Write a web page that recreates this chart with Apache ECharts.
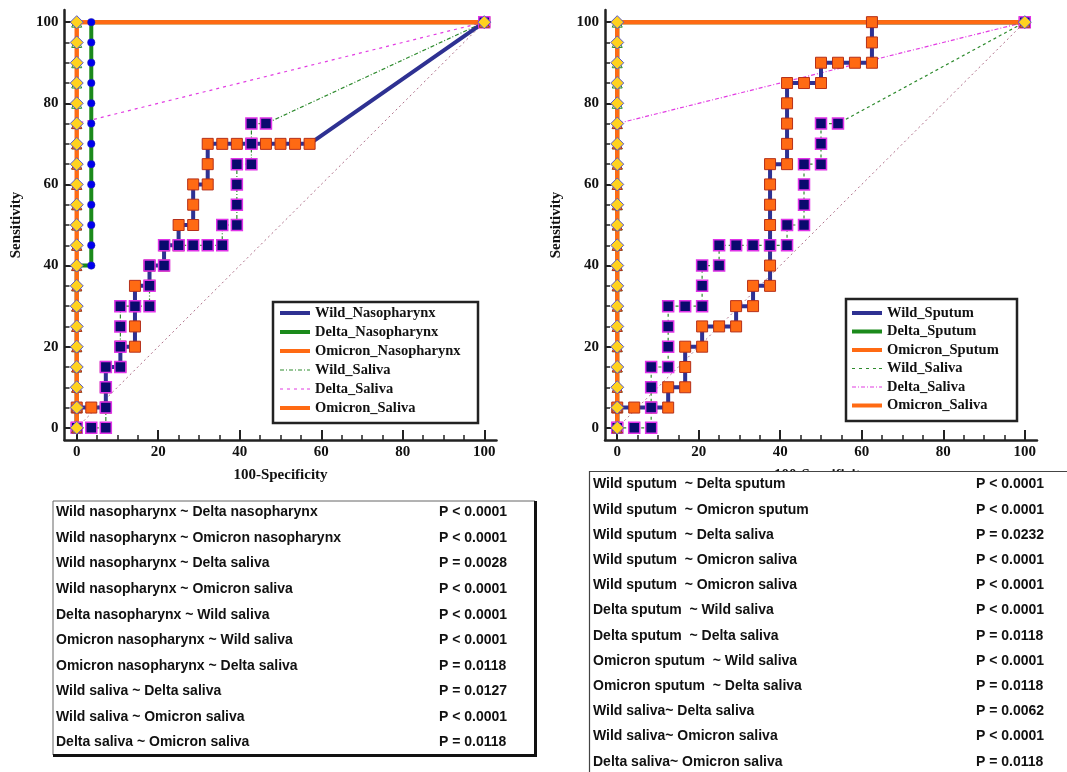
<!DOCTYPE html>
<html>
<head>
<meta charset="utf-8">
<script src="https://cdn.jsdelivr.net/npm/echarts@6/dist/echarts.min.js"></script>
<style>
  html, body { margin: 0; padding: 0; background: #fff; }
  #chart { width: 1067px; height: 772px; }
</style>
</head>
<body>
<div id="chart"></div>
<script>
// ---- axis ticks (percent) ----
const majorTicks = [0, 20, 40, 60, 80, 100];
const minorTicks = [5, 10, 15, 25, 30, 35, 45, 50, 55, 65, 70, 75, 85, 90, 95];

// ---- reference diagonal ----
const diagX = [0, 100];
const diagY = [0, 100];

// ---- nasopharynx panel: 100-Specificity (x) / Sensitivity (y) ----
const wildNasoX = [0, 0, 3.57, 7.14, 7.14, 7.14, 10.71, 10.71, 14.29, 14.29, 14.29, 14.29, 17.86, 17.86, 21.43, 21.43, 25, 25, 28.57, 28.57, 28.57, 32.14, 32.14, 32.14, 35.71, 39.29, 42.86, 46.43, 50, 53.57, 57.14, 100];
const wildNasoY = [0, 5, 5, 5, 10, 15, 15, 20, 20, 25, 30, 35, 35, 40, 40, 45, 45, 50, 50, 55, 60, 60, 65, 70, 70, 70, 70, 70, 70, 70, 70, 100];

const deltaNasoX = [0, 0, 0, 0, 0, 0, 0, 0, 0, 3.57, 3.57, 3.57, 3.57, 3.57, 3.57, 3.57, 3.57, 3.57, 3.57, 3.57, 3.57, 3.57, 100];
const deltaNasoY = [0, 5, 10, 15, 20, 25, 30, 35, 40, 40, 45, 50, 55, 60, 65, 70, 75, 80, 85, 90, 95, 100, 100];

const omicronNasoX = [0, 0, 0, 0, 0, 0, 0, 0, 0, 0, 0, 0, 0, 0, 0, 0, 0, 0, 0, 0, 0, 100];
const omicronNasoY = [0, 5, 10, 15, 20, 25, 30, 35, 40, 45, 50, 55, 60, 65, 70, 75, 80, 85, 90, 95, 100, 100];

const wildSalivaLX = [0, 3.57, 7.14, 7.14, 7.14, 7.14, 10.71, 10.71, 10.71, 10.71, 14.29, 17.86, 17.86, 17.86, 21.43, 21.43, 25, 28.57, 32.14, 35.71, 35.71, 39.29, 39.29, 39.29, 39.29, 42.86, 42.86, 42.86, 46.43, 100];
const wildSalivaLY = [0, 0, 0, 5, 10, 15, 15, 20, 25, 30, 30, 30, 35, 40, 40, 45, 45, 45, 45, 45, 50, 50, 55, 60, 65, 65, 70, 75, 75, 100];

const deltaSalivaLX = [0, 0, 0, 0, 0, 0, 0, 0, 0, 0, 0, 0, 0, 0, 0, 0, 100];
const deltaSalivaLY = [0, 5, 10, 15, 20, 25, 30, 35, 40, 45, 50, 55, 60, 65, 70, 75, 100];

const omicronSalivaLX = [0, 0, 0, 0, 0, 0, 0, 0, 0, 0, 0, 0, 0, 0, 0, 0, 0, 0, 0, 0, 0, 100];
const omicronSalivaLY = [0, 5, 10, 15, 20, 25, 30, 35, 40, 45, 50, 55, 60, 65, 70, 75, 80, 85, 90, 95, 100, 100];

// ---- sputum panel ----
const wildSputumX = [0, 0, 4.17, 8.33, 12.5, 12.5, 16.67, 16.67, 16.67, 20.83, 20.83, 25, 29.17, 29.17, 33.33, 33.33, 37.5, 37.5, 37.5, 37.5, 37.5, 37.5, 37.5, 41.67, 41.67, 41.67, 41.67, 41.67, 45.83, 50, 50, 54.17, 58.33, 62.5, 62.5, 62.5, 100];
const wildSputumY = [0, 5, 5, 5, 5, 10, 10, 15, 20, 20, 25, 25, 25, 30, 30, 35, 35, 40, 45, 50, 55, 60, 65, 65, 70, 75, 80, 85, 85, 85, 90, 90, 90, 90, 95, 100, 100];

const deltaSputumX = [0, 0, 0, 0, 0, 0, 0, 0, 0, 0, 0, 0, 0, 0, 0, 0, 0, 0, 0, 0, 0, 100];
const deltaSputumY = [0, 5, 10, 15, 20, 25, 30, 35, 40, 45, 50, 55, 60, 65, 70, 75, 80, 85, 90, 95, 100, 100];

const omicronSputumX = [0, 0, 0, 0, 0, 0, 0, 0, 0, 0, 0, 0, 0, 0, 0, 0, 0, 0, 0, 0, 0, 100];
const omicronSputumY = [0, 5, 10, 15, 20, 25, 30, 35, 40, 45, 50, 55, 60, 65, 70, 75, 80, 85, 90, 95, 100, 100];

const wildSalivaRX = [0, 4.17, 8.33, 8.33, 8.33, 8.33, 12.5, 12.5, 12.5, 12.5, 16.67, 20.83, 20.83, 20.83, 25, 25, 29.17, 33.33, 37.5, 41.67, 41.67, 45.83, 45.83, 45.83, 45.83, 50, 50, 50, 54.17, 100];
const wildSalivaRY = [0, 0, 0, 5, 10, 15, 15, 20, 25, 30, 30, 30, 35, 40, 40, 45, 45, 45, 45, 45, 50, 50, 55, 60, 65, 65, 70, 75, 75, 100];

const deltaSalivaRX = [0, 0, 0, 0, 0, 0, 0, 0, 0, 0, 0, 0, 0, 0, 0, 0, 100];
const deltaSalivaRY = [0, 5, 10, 15, 20, 25, 30, 35, 40, 45, 50, 55, 60, 65, 70, 75, 100];

const omicronSalivaRX = [0, 0, 0, 0, 0, 0, 0, 0, 0, 0, 0, 0, 0, 0, 0, 0, 0, 0, 0, 0, 0, 100];
const omicronSalivaRY = [0, 5, 10, 15, 20, 25, 30, 35, 40, 45, 50, 55, 60, 65, 70, 75, 80, 85, 90, 95, 100, 100];

// ---- pairwise comparison tables ----
const leftComparisons = [
  'Wild nasopharynx ~ Delta nasopharynx',
  'Wild nasopharynx ~ Omicron nasopharynx',
  'Wild nasopharynx ~ Delta saliva',
  'Wild nasopharynx ~ Omicron saliva',
  'Delta nasopharynx ~ Wild saliva',
  'Omicron nasopharynx ~ Wild saliva',
  'Omicron nasopharynx ~ Delta saliva',
  'Wild saliva ~ Delta saliva',
  'Wild saliva ~ Omicron saliva',
  'Delta saliva ~ Omicron saliva'
];
const leftPValues = ['P < 0.0001', 'P < 0.0001', 'P = 0.0028', 'P < 0.0001', 'P < 0.0001',
  'P < 0.0001', 'P = 0.0118', 'P = 0.0127', 'P < 0.0001', 'P = 0.0118'];

const rightComparisons = [
  'Wild sputum  ~ Delta sputum',
  'Wild sputum  ~ Omicron sputum',
  'Wild sputum  ~ Delta saliva',
  'Wild sputum  ~ Omicron saliva',
  'Wild sputum  ~ Omicron saliva',
  'Delta sputum  ~ Wild saliva',
  'Delta sputum  ~ Delta saliva',
  'Omicron sputum  ~ Wild saliva',
  'Omicron sputum  ~ Delta saliva',
  'Wild saliva~ Delta saliva',
  'Wild saliva~ Omicron saliva',
  'Delta saliva~ Omicron saliva'
];
const rightPValues = ['P < 0.0001', 'P < 0.0001', 'P = 0.0232', 'P < 0.0001', 'P < 0.0001',
  'P < 0.0001', 'P = 0.0118', 'P < 0.0001', 'P = 0.0118', 'P = 0.0062', 'P < 0.0001', 'P = 0.0118'];

const leftNames = ['Wild_Nasopharynx', 'Delta_Nasopharynx', 'Omicron_Nasopharynx', 'Wild_Saliva', 'Delta_Saliva', 'Omicron_Saliva'];
const rightNames = ['Wild_Sputum', 'Delta_Sputum', 'Omicron_Sputum', 'Wild_Saliva', 'Delta_Saliva', 'Omicron_Saliva'];

// ---- styles ----
const NAVY = '#2e3192', GREEN = '#1b8a1b', ORANGE = '#ff6a13';
const THIN_GREEN = '#2e8b2e', MAGENTA = '#e23ce2', DIAG = '#b0708a';
const AXIS = '#222';
const serif = 'Liberation Serif';

const sqOrange = { symbol: 'rect', size: 11, fill: '#ff6a13', stroke: '#b5301a', bw: 1 };
const sqNavy = { symbol: 'rect', size: 11, fill: '#0a0a6e', stroke: '#e033e8', bw: 1.5 };
const dotBlue = { symbol: 'circle', size: 7.5, fill: '#0000ee', stroke: '#2a2aa0', bw: 0.5 };
const triGreen = { symbol: 'triangle', size: 10, fill: '#d8ecd0', stroke: '#2e8b2e', bw: 1 };
const triRed = { symbol: 'triangle', size: 10, fill: '#ff7a30', stroke: '#b03020', bw: 1 };
const diamond = { symbol: 'diamond', size: 13, fill: '#ffd21f', stroke: '#5a5ac8', bw: 1 };

const DASH_DOT = [4, 2, 1, 2];
const DASHED = [3, 4];

function pts(xs, ys) { return xs.map((x, i) => [x, ys[i]]); }

function curve(name, xs, ys, g, color, width, type, z) {
  return {
    type: 'line', name, xAxisIndex: 2 * g, yAxisIndex: 2 * g,
    data: pts(xs, ys), symbol: 'none', showSymbol: false, silent: true,
    lineStyle: { color, width, type }, itemStyle: { color }, z
  };
}

function marks(name, xs, ys, g, m, z) {
  return {
    type: 'scatter', name, xAxisIndex: 2 * g, yAxisIndex: 2 * g,
    data: pts(xs, ys), symbol: m.symbol, symbolSize: m.size, silent: true,
    itemStyle: { color: m.fill, borderColor: m.stroke, borderWidth: m.bw, opacity: 1 }, z
  };
}

function majorX(g) {
  return {
    gridIndex: g, type: 'value', min: -3, max: 103, position: 'bottom',
    name: '100-Specificity', nameLocation: 'middle', nameGap: 28,
    nameTextStyle: { fontFamily: serif, fontWeight: 'bold', fontSize: 15, color: '#111' },
    axisLine: { onZero: false, lineStyle: { color: AXIS, width: 2.5 } },
    axisTick: { inside: true, length: 10, customValues: majorTicks, lineStyle: { color: AXIS, width: 2 } },
    axisLabel: { customValues: majorTicks, margin: 5, fontFamily: serif, fontWeight: 'bold', fontSize: 15, color: '#111' },
    splitLine: { show: false }
  };
}
function minorX(g) {
  return {
    gridIndex: g, type: 'value', min: -3, max: 103, position: 'bottom',
    axisLine: { show: false, onZero: false },
    axisTick: { inside: true, length: 5, customValues: minorTicks, lineStyle: { color: AXIS, width: 1.5 } },
    axisLabel: { show: false }, splitLine: { show: false }
  };
}
function majorY(g) {
  return {
    gridIndex: g, type: 'value', min: -3, max: 103, position: 'left',
    name: 'Sensitivity', nameLocation: 'middle', nameGap: 41, nameRotate: 90,
    nameTextStyle: { fontFamily: serif, fontWeight: 'bold', fontSize: 15, color: '#111' },
    axisLine: { onZero: false, lineStyle: { color: AXIS, width: 2.5 } },
    axisTick: { inside: true, length: 8, customValues: majorTicks, lineStyle: { color: AXIS, width: 2 } },
    axisLabel: { customValues: majorTicks, margin: 6, fontFamily: serif, fontWeight: 'bold', fontSize: 15, color: '#111' },
    splitLine: { show: false }
  };
}
function minorY(g) {
  return {
    gridIndex: g, type: 'value', min: -3, max: 103, position: 'left',
    axisLine: { show: false, onZero: false },
    axisTick: { inside: true, length: 5, customValues: minorTicks, lineStyle: { color: AXIS, width: 1.5 } },
    axisLabel: { show: false }, splitLine: { show: false }
  };
}

// legend line samples (solid bar or dash pattern)
const ICON_SOLID = 'rect';
const ICON_DASH_DOT = 'path://M0,0h4v1h-4zM6,0h1v1h-1zM9,0h4v1h-4zM15,0h1v1h-1zM18,0h4v1h-4zM24,0h1v1h-1zM27,0h3v1h-3z';
const ICON_DASHED = 'path://M0,0h3v1h-3zM7,0h3v1h-3zM14,0h3v1h-3zM21,0h3v1h-3zM27,0h3v1h-3z';

function legendBlock(names, icons, left, top, gap) {
  return {
    orient: 'vertical', left, top, padding: 0, itemGap: gap,
    itemWidth: 30, itemHeight: 4, symbolKeepAspect: true, selectedMode: false,
    itemStyle: { borderWidth: 0 },
    textStyle: { fontFamily: serif, fontWeight: 'bold', fontSize: 14.5, color: '#111', lineHeight: 16 },
    data: names.map((n, i) => ({ name: n, icon: icons[i] }))
  };
}

const series = [
  // nasopharynx panel: lines
  curve('diag', diagX, diagY, 0, DIAG, 1, [2, 3], 1),
  curve('Delta_Saliva', deltaSalivaLX, deltaSalivaLY, 0, MAGENTA, 1.2, DASHED, 2),
  curve('Wild_Saliva', wildSalivaLX, wildSalivaLY, 0, THIN_GREEN, 1.2, DASH_DOT, 2),
  curve('Wild_Nasopharynx', wildNasoX, wildNasoY, 0, NAVY, 4, 'solid', 3),
  curve('Delta_Nasopharynx', deltaNasoX, deltaNasoY, 0, GREEN, 4, 'solid', 4),
  curve('Omicron_Nasopharynx', omicronNasoX, omicronNasoY, 0, ORANGE, 4, 'solid', 5),
  curve('Omicron_Saliva', omicronSalivaLX, omicronSalivaLY, 0, ORANGE, 4, 'solid', 6),
  // nasopharynx panel: markers
  marks('Wild_Nasopharynx', wildNasoX, wildNasoY, 0, sqOrange, 10),
  marks('Wild_Saliva', wildSalivaLX, wildSalivaLY, 0, sqNavy, 11),
  marks('Delta_Nasopharynx', deltaNasoX, deltaNasoY, 0, dotBlue, 12),
  marks('Omicron_Nasopharynx', omicronNasoX, omicronNasoY, 0, triGreen, 13),
  marks('Delta_Saliva', deltaSalivaLX, deltaSalivaLY, 0, triRed, 14),
  marks('Omicron_Saliva', omicronSalivaLX, omicronSalivaLY, 0, diamond, 15),

  // sputum panel: lines
  curve('diag', diagX, diagY, 1, DIAG, 1, [2, 3], 1),
  curve('Delta_Saliva', deltaSalivaRX, deltaSalivaRY, 1, MAGENTA, 1.2, DASH_DOT, 2),
  curve('Wild_Saliva', wildSalivaRX, wildSalivaRY, 1, THIN_GREEN, 1.2, [3, 3], 2),
  curve('Wild_Sputum', wildSputumX, wildSputumY, 1, NAVY, 4, 'solid', 3),
  curve('Delta_Sputum', deltaSputumX, deltaSputumY, 1, GREEN, 4, 'solid', 4),
  curve('Omicron_Sputum', omicronSputumX, omicronSputumY, 1, ORANGE, 4, 'solid', 5),
  curve('Omicron_Saliva', omicronSalivaRX, omicronSalivaRY, 1, ORANGE, 4, 'solid', 6),
  // sputum panel: markers
  marks('Wild_Sputum', wildSputumX, wildSputumY, 1, sqOrange, 10),
  marks('Wild_Saliva', wildSalivaRX, wildSalivaRY, 1, sqNavy, 11),
  marks('Delta_Sputum', deltaSputumX, deltaSputumY, 1, dotBlue, 12),
  marks('Omicron_Sputum', omicronSputumX, omicronSputumY, 1, triGreen, 13),
  marks('Delta_Saliva', deltaSalivaRX, deltaSalivaRY, 1, triRed, 14),
  marks('Omicron_Saliva', omicronSalivaRX, omicronSalivaRY, 1, diamond, 15)
];

// comparison tables drawn as boxed text rows
const tableFont = 'bold 14px "Liberation Sans", Arial, sans-serif';
function tableRows(labels, pvals, x0, xp, y0, pitch) {
  const out = [];
  labels.forEach((t, i) => {
    const y = y0 + i * pitch;
    out.push({ type: 'text', x: x0, y, z: 51, style: { text: t, font: tableFont, fill: '#111', verticalAlign: 'middle' } });
    out.push({ type: 'text', x: xp, y, z: 51, style: { text: pvals[i], font: tableFont, fill: '#111', verticalAlign: 'middle' } });
  });
  return out;
}

const graphic = [
  // legend frames
  { type: 'rect', z: 3, shape: { x: 273, y: 302, width: 205, height: 121 }, style: { fill: 'none', stroke: '#222', lineWidth: 2.5 } },
  { type: 'rect', z: 3, shape: { x: 846, y: 299, width: 171, height: 122 }, style: { fill: 'none', stroke: '#222', lineWidth: 2.5 } },
  // left table frame
  { type: 'rect', z: 50, shape: { x: 53, y: 501, width: 482, height: 254 }, style: { fill: '#fff', stroke: '#666', lineWidth: 1 } },
  { type: 'line', z: 51, shape: { x1: 535.5, y1: 501, x2: 535.5, y2: 757 }, style: { stroke: '#111', lineWidth: 3 } },
  { type: 'line', z: 51, shape: { x1: 53, y1: 755.5, x2: 537, y2: 755.5 }, style: { stroke: '#111', lineWidth: 3 } },
  // right table frame
  { type: 'rect', z: 50, shape: { x: 589.5, y: 471.5, width: 500, height: 320 }, style: { fill: '#fff', stroke: '#444', lineWidth: 1.2 } }
].concat(
  tableRows(leftComparisons, leftPValues, 56, 439, 512.5, 25.55),
  tableRows(rightComparisons, rightPValues, 593, 976, 484.5, 25.2)
);

const chart = echarts.init(document.getElementById('chart'), null, { renderer: 'canvas' });
chart.setOption({
  animation: false,
  backgroundColor: '#fff',
  grid: [
    { left: 64.5, top: 10, width: 432, height: 430 },
    { left: 605, top: 10, width: 432, height: 430 }
  ],
  xAxis: [majorX(0), minorX(0), majorX(1), minorX(1)],
  yAxis: [majorY(0), minorY(0), majorY(1), minorY(1)],
  legend: [
    legendBlock(leftNames, [ICON_SOLID, ICON_SOLID, ICON_SOLID, ICON_DASH_DOT, ICON_DASHED, ICON_SOLID], 280, 305, 3),
    legendBlock(rightNames, [ICON_SOLID, ICON_SOLID, ICON_SOLID, ICON_DASHED, ICON_DASH_DOT, ICON_SOLID], 852, 305, 2.5)
  ],
  series,
  graphic
});
</script>
</body>
</html>
